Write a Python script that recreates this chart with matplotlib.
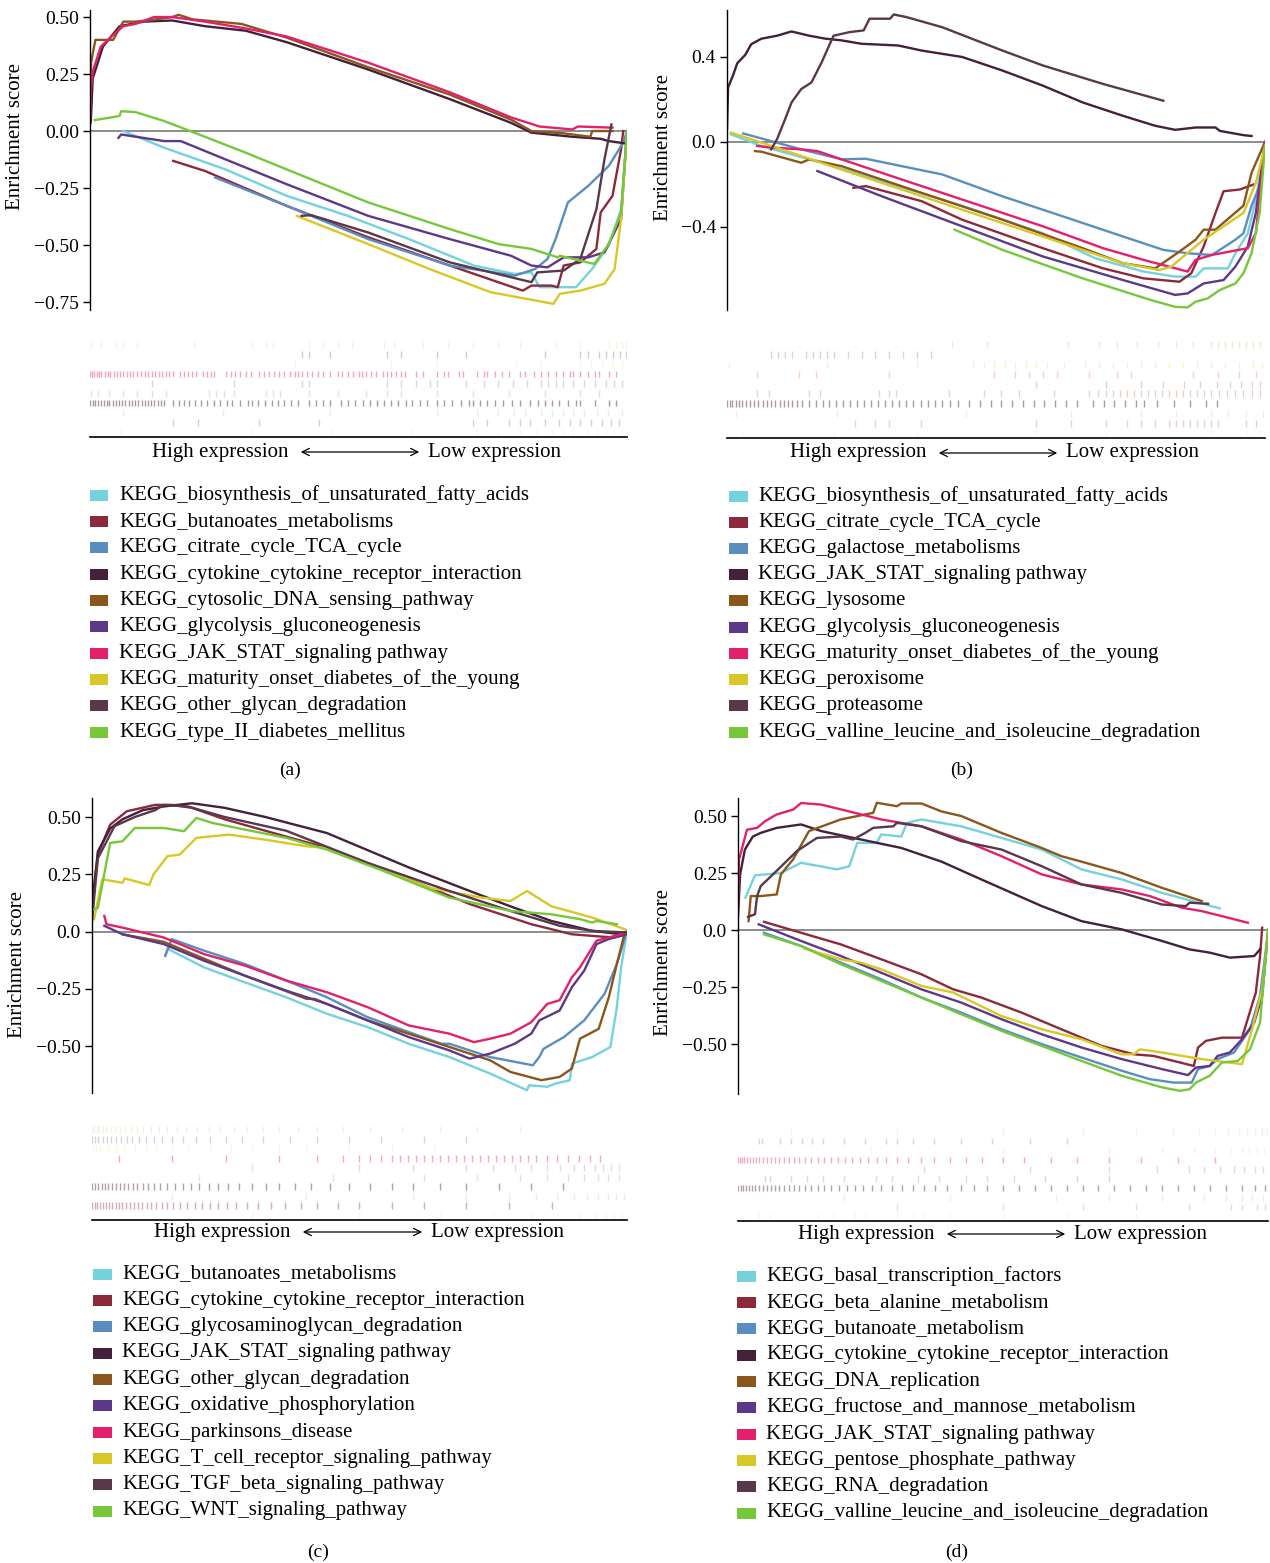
import matplotlib
matplotlib.use("Agg")
import matplotlib.pyplot as plt
from matplotlib.patches import Rectangle, FancyArrowPatch

plt.rcParams['font.family'] = ['Liberation Serif', 'DejaVu Serif']

W, H = 1270, 1563

# ── shared colours (legend order) ─────────────────────────────
COLORS = ['#74d2dc', '#8c2a3c', '#5b8ec0', '#44203a', '#8b561c',
          '#5e3888', '#e2206c', '#d9c727', '#58384a', '#76c83a']

# ── Panel (a) data  (x = rank position in per-mille) ─────────
a_names = ['KEGG_biosynthesis_of_unsaturated_fatty_acids', 'KEGG_butanoates_metabolisms',
           'KEGG_citrate_cycle_TCA_cycle', 'KEGG_cytokine_cytokine_receptor_interaction',
           'KEGG_cytosolic_DNA_sensing_pathway', 'KEGG_glycolysis_gluconeogenesis',
           'KEGG_JAK_STAT_signaling pathway', 'KEGG_maturity_onset_diabetes_of_the_young',
           'KEGG_other_glycan_degradation', 'KEGG_type_II_diabetes_mellitus']
a_x = [
    [62, 138, 252, 366, 480, 594, 715, 791, 822, 837, 905, 935, 966, 989, 1000],
    [155, 214, 366, 518, 670, 806, 822, 860, 871, 882, 913, 943, 951, 973, 989, 993],
    [233, 366, 518, 670, 791, 829, 852, 867, 890, 928, 966, 993, 1000],
    [0, 1.5, 5, 24, 55, 100, 153, 214, 290, 366, 518, 670, 784, 822, 898, 951, 966, 996],
    [0, 2, 10, 43, 62, 85, 123, 153, 165, 191, 282, 366, 518, 670, 784, 822, 882, 932, 935, 973],
    [53, 58, 138, 169, 252, 366, 518, 670, 784, 822, 852, 882, 928, 958, 989, 1000],
    [0, 1.5, 5, 20, 40, 62, 85, 119, 153, 214, 290, 366, 518, 670, 784, 837, 898, 909, 973],
    [385, 518, 632, 746, 863, 875, 913, 958, 977, 989, 1000],
    [394, 412, 518, 670, 822, 833, 882, 913, 943, 958, 971],
    [9, 55, 58, 85, 138, 191, 290, 366, 518, 670, 761, 822, 871, 875, 939, 966, 989, 1000],
]
a_y = [
    [0.0, -0.073, -0.168, -0.284, -0.372, -0.474, -0.59, -0.627, -0.62, -0.685, -0.685, -0.605, -0.503, -0.343, 0.0],
    [-0.131, -0.175, -0.328, -0.466, -0.59, -0.70, -0.678, -0.678, -0.685, -0.59, -0.576, -0.517, -0.357, -0.284, -0.08, 0.0],
    [-0.204, -0.328, -0.474, -0.59, -0.634, -0.605, -0.561, -0.474, -0.313, -0.24, -0.153, -0.051, 0.0],
    [0.03, 0.04, 0.23, 0.37, 0.46, 0.48, 0.485, 0.46, 0.44, 0.39, 0.27, 0.14, 0.036, -0.007, -0.025, -0.034, -0.044, -0.054],
    [0.05, 0.30, 0.40, 0.40, 0.48, 0.48, 0.49, 0.50, 0.51, 0.49, 0.47, 0.41, 0.28, 0.16, 0.05, 0.0, -0.01, -0.025, 0.0, 0.0],
    [-0.03, -0.015, -0.044, -0.044, -0.124, -0.233, -0.372, -0.474, -0.547, -0.59, -0.598, -0.554, -0.554, -0.532, -0.386, 0.0],
    [0.05, 0.18, 0.26, 0.37, 0.415, 0.46, 0.47, 0.50, 0.50, 0.48, 0.45, 0.415, 0.30, 0.17, 0.06, 0.02, 0.007, 0.02, 0.015],
    [-0.372, -0.496, -0.605, -0.707, -0.758, -0.714, -0.70, -0.67, -0.605, -0.386, -0.007],
    [-0.372, -0.369, -0.445, -0.576, -0.663, -0.62, -0.612, -0.561, -0.343, -0.124, 0.029],
    [0.048, 0.066, 0.087, 0.083, 0.044, -0.004, -0.095, -0.168, -0.313, -0.43, -0.496, -0.517, -0.554, -0.547, -0.583, -0.496, -0.357, 0.0],
]
a_rug = [
    [55, 300, 450, 600, 720, 760, 800, 830, 860, 880, 900, 925, 945, 960, 975, 990],
    [154, 201, 314, 427, 713, 740, 780, 800, 820, 847, 873, 893, 913, 933, 953, 970, 985],
    [61, 248, 447, 647, 720, 760, 790, 810, 840, 860, 880, 900, 920, 945, 965, 990],
    [0, 5, 10, 15, 20, 26, 31, 36, 42, 48, 54, 60, 66, 72, 78, 84, 90, 96, 102, 108, 114, 120, 126,
     132, 138, 155, 165, 175, 185, 195, 207, 217, 230, 242, 255, 265, 280, 294, 301, 312, 325, 338,
     350, 362, 375, 388, 408, 420, 434, 447, 467, 480, 494, 508, 521, 534, 547, 560, 574, 588, 600,
     614, 627, 647, 660, 675, 690, 705, 714, 727, 740, 754, 770, 785, 800, 820, 835, 848, 860, 873,
     890, 905, 913, 940, 967, 980],
    [2, 15, 35, 61, 88, 115, 141, 221, 235, 250, 268, 328, 341, 354, 408, 461, 514, 554, 580, 647,
     714, 780, 847, 913, 947],
    [115, 268, 394, 408, 554, 580, 607, 634, 647, 700, 733, 760, 787, 813, 840, 853, 867, 880, 900,
     920, 940, 960, 975, 990],
    [0, 4, 8, 13, 17, 21, 28, 33, 38, 44, 50, 56, 62, 68, 75, 81, 88, 95, 102, 108, 115, 121, 128,
     134, 141, 148, 154, 168, 175, 182, 190, 197, 211, 218, 225, 231, 254, 262, 270, 280, 290, 300,
     314, 324, 333, 343, 352, 362, 372, 382, 388, 394, 404, 414, 424, 434, 447, 461, 470, 480, 490,
     500, 507, 514, 523, 533, 545, 554, 561, 570, 580, 587, 607, 620, 647, 660, 667, 687, 694, 720,
     733, 740, 754, 767, 780, 800, 810, 827, 840, 853, 867, 880, 893, 900, 913, 927, 940, 947, 967, 980],
    [381, 561, 647, 794, 840, 913, 933, 953, 973, 990],
    [394, 408, 447, 554, 580, 647, 700, 847, 913, 927, 947, 960, 973, 987, 998],
    [1, 21, 48, 61, 88, 194, 301, 328, 341, 408, 434, 461, 487, 547, 567, 620, 667, 714, 760, 800,
     867, 913, 967, 980, 990, 998],
]
a_rug_alpha = [0.12, 0.25, 0.15, 0.45, 0.18, 0.22, 0.4, 0.15, 0.25, 0.15]
a_ticks = [0.5, 0.25, 0.0, -0.25, -0.5, -0.75]
a_ticklabels = ['0.50', '0.25', '0.00', '\u22120.25', '\u22120.50', '\u22120.75']

# ── Panel (b) data ───────────────────────────────────────────
b_names = ['KEGG_biosynthesis_of_unsaturated_fatty_acids', 'KEGG_citrate_cycle_TCA_cycle',
           'KEGG_galactose_metabolisms', 'KEGG_JAK_STAT_signaling pathway', 'KEGG_lysosome',
           'KEGG_glycolysis_gluconeogenesis', 'KEGG_maturity_onset_diabetes_of_the_young',
           'KEGG_peroxisome', 'KEGG_proteasome', 'KEGG_valline_leucine_and_isoleucine_degradation']
b_x = [
    [7, 64, 176, 288, 437, 587, 684, 774, 833, 871, 886, 931, 945, 968, 983, 1000],
    [235, 258, 362, 437, 587, 699, 774, 841, 863, 886, 908, 923, 953, 979],
    [30, 138, 213, 258, 325, 400, 512, 624, 736, 811, 856, 901, 916, 945, 960, 975, 990, 1000],
    [0, 2, 11, 19, 34, 45, 64, 93, 120, 153, 183, 213, 250, 318, 362, 437, 512, 587, 661, 736, 796,
     833, 871, 908, 916, 960, 975],
    [52, 64, 138, 153, 213, 362, 512, 661, 736, 796, 841, 871, 886, 908, 923, 960, 975, 1000],
    [168, 288, 437, 587, 736, 833, 856, 886, 923, 945, 968, 983, 1000],
    [56, 86, 138, 168, 213, 325, 437, 587, 699, 774, 856, 871, 901, 968, 983, 1000],
    [7, 64, 138, 213, 325, 437, 549, 661, 736, 803, 826, 848, 886, 923, 960, 983, 1000],
    [82, 93, 108, 120, 138, 157, 176, 198, 228, 254, 265, 303, 310, 333, 400, 512, 587, 699, 811],
    [423, 512, 661, 789, 833, 856, 871, 893, 916, 945, 960, 975, 990, 1000],
]
b_y = [
    [0.036, -0.019, -0.098, -0.185, -0.30, -0.43, -0.547, -0.61, -0.634, -0.634, -0.595, -0.595, -0.524, -0.43, -0.271, 0.0],
    [-0.216, -0.208, -0.279, -0.366, -0.50, -0.595, -0.642, -0.658, -0.618, -0.492, -0.334, -0.232, -0.224, -0.20],
    [0.04, -0.035, -0.082, -0.079, -0.114, -0.153, -0.256, -0.35, -0.445, -0.508, -0.524, -0.532, -0.508, -0.46, -0.43, -0.30, -0.208, 0.0],
    [0.06, 0.257, 0.312, 0.37, 0.41, 0.46, 0.486, 0.50, 0.52, 0.50, 0.486, 0.478, 0.462, 0.454, 0.43,
     0.40, 0.336, 0.265, 0.186, 0.123, 0.076, 0.057, 0.068, 0.068, 0.052, 0.032, 0.028],
    [-0.043, -0.046, -0.098, -0.082, -0.114, -0.24, -0.366, -0.50, -0.571, -0.595, -0.516, -0.46, -0.413, -0.413, -0.38, -0.30, -0.145, 0.0],
    [-0.137, -0.256, -0.397, -0.539, -0.65, -0.72, -0.713, -0.666, -0.65, -0.587, -0.492, -0.334, -0.003],
    [-0.019, -0.027, -0.035, -0.043, -0.082, -0.177, -0.271, -0.397, -0.50, -0.555, -0.61, -0.555, -0.532, -0.50, -0.43, -0.003],
    [0.044, -0.003, -0.066, -0.13, -0.224, -0.319, -0.413, -0.508, -0.571, -0.603, -0.587, -0.54, -0.46, -0.397, -0.334, -0.192, -0.019],
    [-0.035, 0.013, 0.107, 0.186, 0.249, 0.28, 0.375, 0.50, 0.517, 0.525, 0.58, 0.58, 0.60, 0.588, 0.54, 0.43, 0.36, 0.273, 0.194],
    [-0.413, -0.508, -0.642, -0.745, -0.776, -0.779, -0.752, -0.737, -0.697, -0.666, -0.618, -0.524, -0.334, -0.019],
]
b_rug = [
    [29, 198, 354, 575, 705, 899, 964, 990],
    [237, 276, 302, 360, 575, 640, 705, 744, 769, 795, 821, 834, 847, 860, 873, 886, 899, 912, 964, 984],
    [16, 205, 445, 640, 769, 834, 899, 932, 964, 997],
    [0, 5, 10, 16, 22, 28, 35, 42, 50, 58, 66, 74, 82, 90, 98, 106, 113, 120, 130, 140, 152, 165,
     178, 190, 203, 216, 229, 242, 255, 268, 281, 294, 307, 320, 333, 346, 360, 373, 386, 400, 415,
     430, 450, 470, 490, 510, 530, 550, 570, 590, 610, 630, 650, 680, 700, 720, 740, 760, 775, 800,
     830, 860, 890, 910],
    [55, 78, 153, 172, 282, 302, 315, 413, 477, 510, 542, 607, 672, 690, 705, 718, 731, 744, 757,
     770, 783, 796, 809, 822, 835, 848, 861, 874, 887, 900, 915, 930, 945, 960, 975, 990],
    [575, 705, 769, 810, 850, 880, 910, 935, 955, 975, 990],
    [55, 133, 166, 302, 497, 536, 562, 588, 614, 672, 724, 750, 867, 912, 951, 984],
    [3, 185, 354, 458, 477, 497, 516, 536, 555, 575, 595, 627, 666, 692, 718, 744, 770, 796, 822,
     848, 874, 900, 926, 952, 978, 995],
    [81, 94, 107, 120, 146, 159, 172, 185, 198, 224, 250, 276, 302, 328, 354, 380],
    [419, 484, 633, 692, 724, 763, 802, 834, 867, 899, 913, 926, 939, 952, 965, 978, 991],
]
b_rug_alpha = [0.12, 0.22, 0.15, 0.45, 0.25, 0.22, 0.22, 0.22, 0.22, 0.22]
b_ticks = [0.4, 0.0, -0.4]
b_ticklabels = ['0.4', '0.0', '\u22120.4']

# ── Panel (c) data ───────────────────────────────────────────
c_names = ['KEGG_butanoates_metabolisms', 'KEGG_cytokine_cytokine_receptor_interaction',
           'KEGG_glycosaminoglycan_degradation', 'KEGG_JAK_STAT_signaling pathway',
           'KEGG_other_glycan_degradation', 'KEGG_oxidative_phosphorylation',
           'KEGG_parkinsons_disease', 'KEGG_T_cell_receptor_signaling_pathway',
           'KEGG_TGF_beta_signaling_pathway', 'KEGG_WNT_signaling_pathway']
c_x = [
    [137, 141, 210, 286, 363, 439, 515, 592, 668, 744, 813, 817, 851, 866, 893, 897, 935, 969, 981, 989, 1000],
    [0, 11, 34, 65, 118, 149, 187, 248, 324, 439, 592, 706, 821, 897, 973, 1000],
    [137, 149, 210, 286, 363, 439, 515, 592, 653, 668, 744, 824, 836, 844, 882, 920, 958, 981, 1000],
    [0, 11, 34, 57, 95, 134, 187, 248, 324, 439, 592, 706, 782, 859, 935, 989],
    [57, 134, 286, 401, 416, 515, 630, 744, 782, 840, 874, 897, 912, 947, 966, 981, 996],
    [23, 57, 134, 210, 286, 363, 439, 515, 592, 668, 706, 744, 790, 821, 836, 874, 897, 920, 943, 966, 1000],
    [23, 27, 57, 134, 210, 286, 363, 439, 515, 592, 668, 714, 744, 782, 821, 851, 874, 897, 912, 943, 966, 1000],
    [4, 19, 57, 61, 107, 115, 141, 164, 195, 225, 256, 324, 401, 439, 515, 630, 729, 782, 813, 859, 935, 996],
    [0, 11, 42, 80, 118, 134, 179, 248, 363, 515, 668, 782, 874, 935, 1000],
    [4, 11, 34, 57, 80, 134, 172, 195, 225, 286, 363, 439, 553, 668, 782, 859, 912, 935, 943, 981],
]
c_y = [
    [-0.106, -0.075, -0.157, -0.222, -0.287, -0.359, -0.417, -0.49, -0.548, -0.62, -0.693, -0.671,
     -0.678, -0.664, -0.649, -0.577, -0.548, -0.504, -0.33, -0.157, 0.003],
    [0.12, 0.336, 0.467, 0.525, 0.553, 0.553, 0.54, 0.49, 0.44, 0.365, 0.228, 0.12, 0.032, -0.012, -0.026, -0.012],
    [-0.106, -0.033, -0.084, -0.142, -0.214, -0.287, -0.374, -0.439, -0.49, -0.49, -0.548, -0.584,
     -0.548, -0.512, -0.461, -0.388, -0.272, -0.142, 0.003],
    [0.104, 0.35, 0.45, 0.49, 0.53, 0.546, 0.56, 0.54, 0.50, 0.43, 0.28, 0.177, 0.11, 0.046, 0.003, -0.012],
    [-0.012, -0.045, -0.193, -0.294, -0.294, -0.388, -0.475, -0.562, -0.613, -0.649, -0.635, -0.598,
     -0.468, -0.425, -0.287, -0.142, -0.004],
    [0.025, -0.012, -0.055, -0.128, -0.193, -0.258, -0.316, -0.388, -0.461, -0.519, -0.555, -0.533,
     -0.49, -0.446, -0.388, -0.345, -0.243, -0.171, -0.055, -0.033, -0.012],
    [0.068, 0.032, 0.017, -0.026, -0.099, -0.149, -0.214, -0.265, -0.33, -0.41, -0.446, -0.483,
     -0.468, -0.446, -0.396, -0.316, -0.30, -0.20, -0.157, -0.04, -0.026, -0.004],
    [0.054, 0.228, 0.213, 0.232, 0.203, 0.25, 0.329, 0.336, 0.409, 0.416, 0.423, 0.401, 0.372, 0.365,
     0.30, 0.191, 0.148, 0.133, 0.177, 0.11, 0.061, 0.01],
    [0.046, 0.32, 0.46, 0.50, 0.53, 0.553, 0.546, 0.50, 0.44, 0.30, 0.177, 0.09, 0.025, 0.003, -0.004],
    [0.097, 0.104, 0.387, 0.394, 0.452, 0.452, 0.438, 0.496, 0.474, 0.445, 0.409, 0.358, 0.257, 0.148,
     0.09, 0.075, 0.054, 0.039, 0.046, 0.032],
]
c_rug = [
    [300, 500, 650, 750, 820, 870, 910, 940, 960, 975, 990],
    [0, 5, 10, 15, 20, 26, 32, 38, 44, 50, 57, 64, 71, 78, 86, 94, 102, 110, 120, 130, 140, 152, 165,
     178, 192, 206, 220, 236, 252, 270, 290, 310, 335, 360, 390, 420, 460, 500, 560, 620, 700, 780, 860],
    [150, 400, 600, 700, 780, 830, 870, 900, 925, 945, 965, 980, 995],
    [0, 6, 12, 18, 24, 30, 37, 44, 52, 60, 68, 76, 85, 95, 105, 115, 127, 140, 155, 170, 185, 200,
     218, 236, 255, 275, 300, 325, 350, 380, 410, 445, 480, 520, 560, 600, 650, 700, 760, 820, 880],
    [200, 450, 620, 720, 800, 850, 890, 920, 945, 965, 985],
    [300, 500, 600, 700, 750, 790, 820, 850, 875, 900, 920, 940, 955, 970, 985],
    [50, 150, 250, 350, 420, 470, 500, 520, 540, 560, 575, 590, 605, 620, 635, 650, 665, 680, 695,
     710, 725, 740, 755, 770, 785, 800, 815, 830, 850, 870, 890, 910, 930, 950],
    [2, 8, 15, 30, 45, 60, 80, 100, 120, 150, 180, 220, 260, 300, 350, 400, 480, 560, 640],
    [0, 5, 12, 20, 28, 36, 45, 55, 65, 75, 88, 100, 115, 130, 150, 170, 195, 220, 250, 280, 320, 370,
     420, 480, 540, 620, 700],
    [0, 4, 9, 14, 20, 27, 35, 43, 52, 62, 72, 84, 96, 110, 125, 140, 158, 176, 196, 218, 240, 265,
     290, 320, 350, 385, 420, 470, 520, 580, 650, 720, 800],
]
c_rug_alpha = [0.12, 0.38, 0.15, 0.42, 0.18, 0.18, 0.38, 0.15, 0.22, 0.15]
c_ticks = [0.5, 0.25, 0.0, -0.25, -0.5]
c_ticklabels = ['0.50', '0.25', '0.0', '\u22120.25', '\u22120.50']

# ── Panel (d) data ───────────────────────────────────────────
d_names = ['KEGG_basal_transcription_factors', 'KEGG_beta_alanine_metabolism',
           'KEGG_butanoate_metabolism', 'KEGG_cytokine_cytokine_receptor_interaction',
           'KEGG_DNA_replication', 'KEGG_fructose_and_mannose_metabolism',
           'KEGG_JAK_STAT_signaling pathway', 'KEGG_pentose_phosphate_pathway',
           'KEGG_RNA_degradation', 'KEGG_valline_leucine_and_isoleucine_degradation']
d_x = [
    [14, 32, 81, 119, 187, 210, 225, 262, 270, 308, 319, 346, 421, 497, 573, 648, 724, 800, 909],
    [49, 119, 194, 270, 346, 406, 459, 535, 610, 686, 747, 784, 822, 860, 868, 883, 913, 951, 977, 985, 989],
    [49, 119, 194, 270, 346, 421, 497, 573, 648, 724, 777, 822, 856, 868, 890, 905, 936, 966, 985, 1000],
    [0, 4, 13, 28, 43, 73, 119, 157, 232, 308, 384, 459, 573, 648, 724, 800, 852, 890, 928, 974, 985],
    [20, 24, 43, 73, 81, 104, 134, 194, 255, 262, 300, 308, 346, 384, 421, 497, 573, 610, 648, 724, 800, 875],
    [39, 119, 194, 270, 346, 421, 497, 573, 648, 724, 800, 849, 864, 890, 905, 928, 951, 974, 989, 1000],
    [0, 2, 17, 36, 51, 73, 104, 119, 157, 210, 270, 346, 421, 497, 573, 648, 724, 777, 837, 875, 913, 962],
    [126, 194, 232, 270, 346, 406, 497, 573, 648, 724, 747, 758, 800, 875, 951, 970, 989, 1000],
    [19, 32, 36, 43, 66, 111, 149, 194, 217, 240, 255, 293, 300, 346, 421, 497, 573, 648, 724, 800, 845, 852, 887],
    [49, 119, 194, 270, 346, 421, 497, 573, 648, 724, 800, 834, 852, 864, 890, 913, 943, 966, 985, 1000],
]
d_y = [
    [0.142, 0.24, 0.25, 0.295, 0.266, 0.28, 0.382, 0.382, 0.419, 0.41, 0.47, 0.485, 0.455, 0.404,
     0.353, 0.266, 0.222, 0.163, 0.095],
    [0.036, -0.012, -0.063, -0.128, -0.194, -0.26, -0.296, -0.362, -0.435, -0.508, -0.545, -0.552,
     -0.574, -0.596, -0.515, -0.486, -0.472, -0.472, -0.274, -0.114, 0.01],
    [-0.012, -0.07, -0.143, -0.216, -0.296, -0.362, -0.435, -0.50, -0.559, -0.617, -0.654, -0.669,
     -0.669, -0.61, -0.596, -0.566, -0.537, -0.435, -0.289, -0.012],
    [0.06, 0.244, 0.353, 0.41, 0.426, 0.448, 0.463, 0.434, 0.397, 0.36, 0.30, 0.222, 0.105, 0.039,
     0.003, -0.048, -0.085, -0.099, -0.121, -0.114, -0.085],
    [0.039, 0.149, 0.149, 0.156, 0.244, 0.31, 0.434, 0.485, 0.514, 0.558, 0.543, 0.555, 0.555, 0.52,
     0.50, 0.426, 0.36, 0.324, 0.30, 0.25, 0.185, 0.127],
    [0.025, -0.048, -0.114, -0.187, -0.26, -0.318, -0.391, -0.457, -0.515, -0.566, -0.61, -0.636,
     -0.603, -0.596, -0.552, -0.537, -0.479, -0.406, -0.289, -0.012],
    [0.12, 0.31, 0.44, 0.448, 0.477, 0.507, 0.528, 0.557, 0.55, 0.52, 0.485, 0.455, 0.397, 0.324,
     0.244, 0.20, 0.178, 0.149, 0.098, 0.083, 0.061, 0.032],
    [-0.082, -0.128, -0.143, -0.172, -0.245, -0.274, -0.377, -0.435, -0.479, -0.545, -0.545, -0.523,
     -0.537, -0.566, -0.588, -0.435, -0.26, -0.012],
    [0.058, 0.069, 0.149, 0.193, 0.244, 0.346, 0.404, 0.41, 0.397, 0.426, 0.448, 0.455, 0.47, 0.455,
     0.39, 0.353, 0.28, 0.20, 0.163, 0.112, 0.105, 0.12, 0.115],
    [-0.019, -0.07, -0.15, -0.223, -0.296, -0.369, -0.442, -0.508, -0.574, -0.639, -0.69, -0.705,
     -0.698, -0.669, -0.639, -0.581, -0.574, -0.523, -0.406, 0.003],
]
d_rug = [
    [40, 60, 150, 180, 220, 240, 300, 330, 350, 400, 500, 620, 750],
    [300, 500, 650, 750, 850, 930, 950, 980, 995],
    [200, 400, 600, 700, 800, 880, 920, 950, 970, 990],
    [0, 5, 10, 15, 21, 27, 33, 40, 47, 54, 62, 70, 78, 87, 96, 106, 116, 127, 138, 150, 163, 176,
     190, 205, 220, 236, 252, 270, 290, 310, 330, 350, 372, 395, 420, 445, 470, 500, 530, 560, 590,
     620, 650, 680, 710, 740, 770, 800, 830, 860, 890, 920, 950, 975, 995],
    [50, 60, 100, 130, 160, 200, 260, 290, 340, 380, 430, 470, 520, 580, 640, 700],
    [350, 550, 700, 790, 850, 880, 910, 935, 955, 975, 990],
    [0, 4, 8, 12, 17, 22, 28, 34, 40, 47, 54, 62, 70, 78, 87, 96, 106, 116, 127, 138, 150, 162, 175,
     188, 202, 216, 230, 246, 262, 280, 300, 320, 345, 370, 400, 430, 460, 500, 540, 590, 640, 700,
     760, 830, 900],
    [250, 500, 700, 800, 860, 900, 930, 950, 965, 980, 992],
    [40, 45, 80, 100, 120, 140, 160, 200, 240, 280, 300, 330, 370, 420, 480, 550, 620],
    [100, 300, 500, 650, 750, 820, 870, 900, 925, 945, 960, 975, 988, 998],
]
d_rug_alpha = [0.15, 0.18, 0.15, 0.42, 0.22, 0.18, 0.38, 0.15, 0.22, 0.15]
d_ticks = c_ticks
d_ticklabels = c_ticklabels

# ── Layout (figure pixels, from top) ─────────────────────────
panels = [
    dict(names=a_names, xs=a_x, ys=a_y, rug=a_rug, ralpha=a_rug_alpha, ticks=a_ticks, tl=a_ticklabels,
         box=(90, 627, 10, 310), ylim=(-0.785, 0.531), lab=(-0.121, 0.58), rugbox=(340, 437),
         arrow=(298, 422, 452), leg=(90, 108, 119, 495, 732), tag=('(a)', 290, 770)),
    dict(names=b_names, xs=b_x, ys=b_y, rug=b_rug, ralpha=b_rug_alpha, ticks=b_ticks, tl=b_ticklabels,
         box=(727, 1265, 10, 310), ylim=(-0.791, 0.621), lab=(-0.100, 0.543), rugbox=(340, 438),
         arrow=(936, 1060, 453), leg=(729, 748, 758, 496, 732), tag=('(b)', 962, 770)),
    dict(names=c_names, xs=c_x, ys=c_y, rug=c_rug, ralpha=c_rug_alpha, ticks=c_ticks, tl=c_ticklabels,
         box=(92, 627, 798, 1093), ylim=(-0.705, 0.583), lab=(-0.121, 0.434), rugbox=(1125, 1220),
         arrow=(300, 425, 1232), leg=(93, 112, 122, 1274, 1511), tag=('(c)', 318, 1552)),
    dict(names=d_names, xs=d_x, ys=d_y, rug=d_rug, ralpha=d_rug_alpha, ticks=d_ticks, tl=d_ticklabels,
         box=(738, 1268, 798, 1094), ylim=(-0.719, 0.579), lab=(-0.123, 0.443), rugbox=(1127, 1221),
         arrow=(944, 1068, 1234), leg=(737, 756, 766, 1276, 1513), tag=('(d)', 957, 1552)),
]

fig = plt.figure(figsize=(W / 100, H / 100), dpi=100)


def fx(x):
    return x / W


def fy(y):
    return 1 - y / H


for p in panels:
    x0, x1, yt, yb = p['box']
    ax = fig.add_axes([fx(x0), fy(yb), (x1 - x0) / W, (yb - yt) / H])
    ax.axhline(0, color='#6e6e6e', lw=1.1, zorder=1)
    for xs, ys, c in zip(p['xs'], p['ys'], COLORS):
        ax.plot(xs, ys, color=c, lw=1.7, solid_joinstyle='round', zorder=2)
    ax.set_xlim(0, 1000)
    ax.set_ylim(*p['ylim'])
    for s in ['top', 'right', 'bottom']:
        ax.spines[s].set_visible(False)
    ax.spines['left'].set_linewidth(1.0)
    ax.set_xticks([])
    ax.set_yticks(p['ticks'])
    ax.set_yticklabels(p['tl'], fontsize=14)
    ax.tick_params(axis='y', length=5, width=1, pad=3)
    ax.set_ylabel('Enrichment score', fontsize=15)
    ax.yaxis.set_label_coords(*p['lab'])

    # barcode rug
    rt, rb = p['rugbox']
    rax = fig.add_axes([fx(x0), fy(rb), (x1 - x0) / W, (rb - rt) / H])
    for i, (pos, c, al) in enumerate(zip(p['rug'], COLORS, p['ralpha'])):
        rax.vlines(pos, i + 0.15, i + 0.85, color=c, alpha=al, lw=1.0)
    rax.set_xlim(0, 1000)
    rax.set_ylim(0, 10)
    for s in ['top', 'right', 'left']:
        rax.spines[s].set_visible(False)
    rax.spines['bottom'].set_linewidth(1.2)
    rax.set_xticks([])
    rax.set_yticks([])

    # High / Low expression arrow
    a0, a1, ay = p['arrow']
    fig.text(fx(a0 - 9), fy(ay), 'High expression', ha='right', va='center', fontsize=15)
    fig.text(fx(a1 + 6), fy(ay), 'Low expression', ha='left', va='center', fontsize=15)
    fig.add_artist(FancyArrowPatch((fx(a0), fy(ay)), (fx(a1), fy(ay)), transform=fig.transFigure,
                                   arrowstyle='<->', mutation_scale=13, lw=0.9, color='black'))

    # legend
    px0, px1, tx, ly0, ly1 = p['leg']
    step = (ly1 - ly0) / (len(p['names']) - 1)
    for i, (nm, c) in enumerate(zip(p['names'], COLORS)):
        yy = ly0 + i * step
        fig.add_artist(Rectangle((fx(px0), fy(yy + 5.5)), (px1 - px0) / W, 11 / H,
                                 transform=fig.transFigure, color=c, lw=0))
        fig.text(fx(tx), fy(yy), nm, ha='left', va='center', fontsize=15)

    t, tx_, ty_ = p['tag']
    fig.text(fx(tx_), fy(ty_), t, ha='center', va='center', fontsize=14)

plt.savefig('out.png', dpi=100)
plt.close()
